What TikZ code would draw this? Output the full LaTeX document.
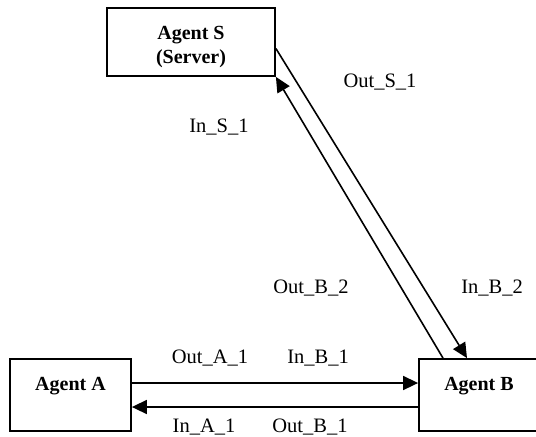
\documentclass[tikz,border=0pt]{standalone}
\usepackage{fontspec}
\setmainfont{Liberation Serif}
\usetikzlibrary{positioning,calc,arrows.meta}

\tikzset{
    agent/.style={draw, line width=0.9pt, inner xsep=0pt, inner ysep=0pt, font=\bfseries, align=center},
    msg/.style={line width=0.8pt, -{Triangle[length=7.5pt,width=7pt]}},
    port/.style={anchor=base, inner sep=0pt}
}

\begin{document}
\begin{tikzpicture}[x=0.5pt, y=-0.5pt, font=\fontsize{10.25}{12}\selectfont]
    \useasboundingbox (0,0) rectangle (536,436);
    \clip (0,0) rectangle (536,436);

    % Agents
    \node[agent, minimum width=84pt, text height=27.5pt, text depth=6.5pt] (srv) at (191,42) {Agent S\\(Server)};
    \node[agent, minimum width=60.5pt, text height=15.5pt, text depth=20.5pt] (agA) at (70.5,395) {Agent A};
    \node[agent, minimum width=60pt, text height=15.5pt, text depth=20.5pt] (agB) at (479,395) {Agent B};

    % A <-> B
    \draw[msg] ([yshift=6pt]agA.east) -- ([yshift=6pt]agB.west);
    \draw[msg] ([yshift=-6pt]agB.west) -- ([yshift=-6pt]agA.east);

    % S <-> B
    \draw[msg] ([yshift=-3.25pt]srv.east) -- ([xshift=-6pt]agB.north);
    \draw[msg] ([xshift=-18pt]agB.north) -- (srv.south east);

    % Ports
    \node[port] (outS1) at (380,87) {Out\_S\_1};
    \node[port] (inS1) at (219,132) {In\_S\_1};
    \node[port] (outB2) at (311,293) {Out\_B\_2};
    \node[port] (inB2) at (492,293) {In\_B\_2};
    \node[port] (outA1) at (210,363) {Out\_A\_1};
    \node[port] (inB1) at (318,363) {In\_B\_1};
    \node[port] (inA1) at (204,432) {In\_A\_1};
    \node[port] (outB1) at (310,432) {Out\_B\_1};
\end{tikzpicture}
\end{document}
